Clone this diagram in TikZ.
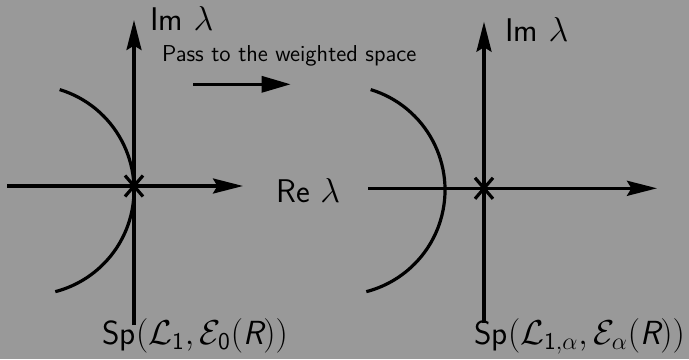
\documentclass[tikz,border=0pt]{standalone}
\usetikzlibrary{arrows.meta}
\definecolor{bg}{RGB}{153,153,153}
\newcommand{\sfR}{\mbox{\sffamily\slshape R}}
\tikzset{
  axis/.style={line width=1.6pt, -{Stealth[length=15pt,width=7.5pt,inset=2.2pt]}},
  plain/.style={line width=1.6pt},
  passarrow/.style={line width=1.6pt, -{Triangle[length=14.5pt,width=8pt]}},
  big/.style={inner sep=0pt, anchor=base west, font=\fontsize{16.4}{19}\selectfont\sffamily},
  spec/.style={inner sep=0pt, anchor=base west, font=\fontsize{16.7}{20}\selectfont\sffamily},
  small/.style={inner sep=0pt, anchor=base west, font=\fontsize{11.5}{13}\selectfont\sffamily}
}
\begin{document}
\begin{tikzpicture}[x=0.5pt,y=0.5pt]
\useasboundingbox[fill=bg] (0,0) rectangle (689,-359);
% left diagram
\coordinate (O1) at (134,-186);
\coordinate (V1b) at (134,-325);
\coordinate (V1t) at (134,-20);
\coordinate (H1l) at (7,-186);
\coordinate (H1r) at (243,-186);
\coordinate (C1) at (29,-190);
\draw[axis] (V1b) -- (V1t);
\draw[axis] (H1l) -- (H1r);
\draw[plain] (C1) ++(73:105) arc[start angle=73, end angle=-75.5, radius=105];
\draw[plain] (O1) ++(-9,10.5) -- ++(18,-21);
\draw[plain] (O1) ++(-9,-10.5) -- ++(18,21);
% right diagram
\coordinate (O2) at (484,-188.3);
\coordinate (V2b) at (484,-323);
\coordinate (V2t) at (484,-21.7);
\coordinate (H2l) at (368,-188.3);
\coordinate (H2r) at (657,-188.3);
\coordinate (C2) at (340,-190);
\draw[axis] (V2b) -- (V2t);
\draw[axis] (H2l) -- (H2r);
\draw[plain] (C2) ++(73:105) arc[start angle=73, end angle=-75.5, radius=105];
\draw[plain] (O2) ++(-9,10.5) -- ++(18,-21);
\draw[plain] (O2) ++(-9,-10.5) -- ++(18,21);
% middle arrow
\coordinate (Ma) at (193,-84.3);
\coordinate (Mb) at (290.7,-84.3);
\draw[passarrow] (Ma) -- (Mb);
% labels
\node[big] (im1) at (150,-30) {Im $\lambda$};
\node[big] (im2) at (505,-41.7) {Im $\lambda$};
\node[big] (re1) at (276,-202.7) {Re $\lambda$};
\node[small] (pass) at (161.7,-61) {Pass to the weighted space};
\node[spec] (sp1) at (102,-344) {Sp$(\mathcal{L}_{\mathsf{1}},\mathcal{E}_{\mathsf{0}}(\sfR))$};
\node[spec] (sp2) at (474,-344) {Sp$(\mathcal{L}_{\mathsf{1},\alpha},\mathcal{E}_{\alpha}(\sfR))$};
\end{tikzpicture}
\end{document}
